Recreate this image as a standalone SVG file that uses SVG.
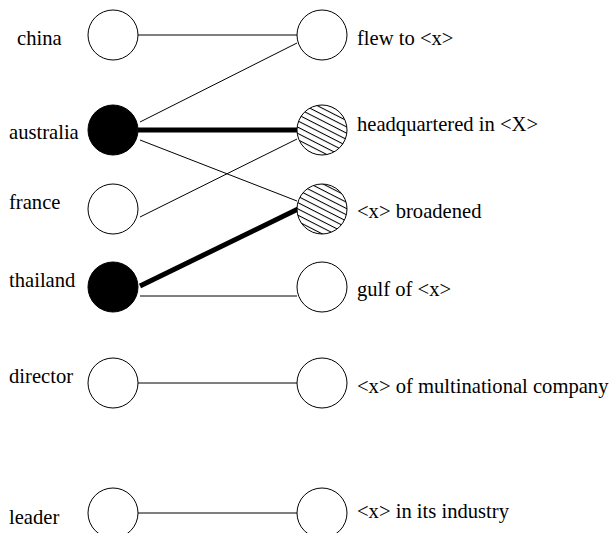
<svg xmlns="http://www.w3.org/2000/svg" width="614" height="533" viewBox="0 0 614 533">
<style>
text{font-family:"Liberation Serif","DejaVu Serif",serif;font-size:20.6px;fill:#000}
.n{fill:#fff;stroke:#000;stroke-width:1}
.b{fill:#000;stroke:#000;stroke-width:1}
.h{fill:url(#hatch);stroke:#000;stroke-width:1}
.t{stroke:#000;stroke-width:1;fill:none}
.k{stroke:#000;stroke-width:5;fill:none}
</style>
<defs>
<pattern id="hatch" patternUnits="userSpaceOnUse" width="10" height="5.6" patternTransform="rotate(27)">
<rect width="10" height="5.6" fill="#fff"/>
<line x1="0" y1="0.5" x2="10" y2="0.5" stroke="#000" stroke-width="1"/>
</pattern>
</defs>
<rect width="614" height="533" fill="#fff"/>
<g id="connectors">
<line class="t" x1="138" y1="35" x2="297" y2="35"/>
<line class="t" x1="140" y1="122" x2="297" y2="43"/>
<line class="k" x1="138" y1="130" x2="297" y2="130"/>
<line class="t" x1="140" y1="140" x2="297" y2="201"/>
<line class="t" x1="140" y1="217" x2="297" y2="139"/>
<line class="k" x1="140" y1="286" x2="298" y2="209"/>
<line class="t" x1="140" y1="296" x2="297" y2="296"/>
<line class="t" x1="138" y1="383" x2="297" y2="383"/>
<line class="t" x1="138" y1="513" x2="297" y2="513"/>
</g>
<g id="china"><circle class="n" cx="113" cy="35" r="25"/><text x="17" y="45" font-family="Liberation Serif, serif">china</text></g>
<g id="australia"><circle class="b" cx="113" cy="130" r="25"/><text x="9" y="139" font-family="Liberation Serif, serif">australia</text></g>
<g id="france"><circle class="n" cx="113" cy="209" r="25"/><text x="9" y="209" font-family="Liberation Serif, serif">france</text></g>
<g id="thailand"><circle class="b" cx="113" cy="287" r="25"/><text x="9" y="287" font-family="Liberation Serif, serif">thailand</text></g>
<g id="director"><circle class="n" cx="113" cy="383" r="25"/><text x="9" y="383" font-family="Liberation Serif, serif">director</text></g>
<g id="leader"><circle class="n" cx="113" cy="513" r="25"/><text x="9" y="524" font-family="Liberation Serif, serif">leader</text></g>
<g id="flew"><circle class="n" cx="322" cy="35" r="25"/><text x="357" y="45" font-family="Liberation Serif, serif">flew to &lt;x&gt;</text></g>
<g id="headquartered"><circle class="h" cx="322" cy="130" r="25"/><text x="357" y="131" font-family="Liberation Serif, serif">headquartered in &lt;X&gt;</text></g>
<g id="broadened"><circle class="h" cx="322" cy="209" r="25"/><text x="357" y="218" font-family="Liberation Serif, serif">&lt;x&gt; broadened</text></g>
<g id="gulf"><circle class="n" cx="322" cy="287" r="25"/><text x="357" y="296" font-family="Liberation Serif, serif">gulf of &lt;x&gt;</text></g>
<g id="multinational"><circle class="n" cx="322" cy="383" r="25"/><text x="357" y="393" font-family="Liberation Serif, serif">&lt;x&gt; of multinational company</text></g>
<g id="industry"><circle class="n" cx="322" cy="513" r="25"/><text x="357" y="518" font-family="Liberation Serif, serif">&lt;x&gt; in its industry</text></g>
</svg>
